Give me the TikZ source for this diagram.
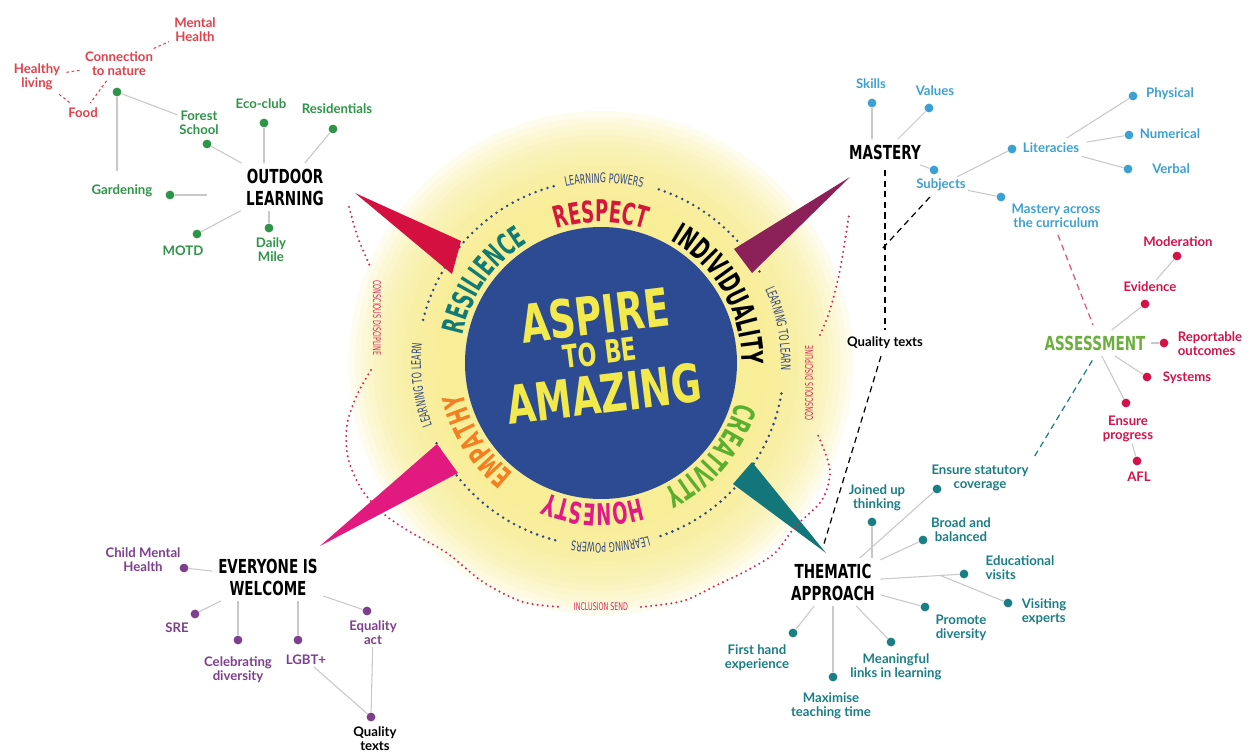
\documentclass[tikz,border=0pt]{standalone}
\usepackage{fontspec}
\setmainfont{Lato}
\newfontfamily\headfont{DejaVu Sans}[FakeStretch=0.7]
\newfontfamily\ringfont{DejaVu Sans}[FakeStretch=0.6]
\usetikzlibrary{decorations.text,calc}

\definecolor{outgreen}{HTML}{2E9548}
\definecolor{natred}{HTML}{E2404A}
\definecolor{mblue}{HTML}{3BA0D3}
\definecolor{asred}{HTML}{D3124A}
\definecolor{asgreen}{HTML}{6DAF3E}
\definecolor{thteal}{HTML}{1A7E85}
\definecolor{evpurple}{HTML}{7E3F8E}
\definecolor{twiggray}{HTML}{C8C8C8}
\definecolor{discblue}{HTML}{2C4B93}
\definecolor{titleyellow}{HTML}{F2EA4C}
\definecolor{ringnavy}{HTML}{35477E}
\definecolor{wavyred}{HTML}{D42A55}
\definecolor{wedgered}{HTML}{D3103F}
\definecolor{wedgeplum}{HTML}{8C2159}
\definecolor{wedgepink}{HTML}{E2197F}
\definecolor{wedgeteal}{HTML}{12767A}
\definecolor{respect}{HTML}{D3173D}
\definecolor{resilience}{HTML}{0F7A76}
\definecolor{empathy}{HTML}{F47E22}
\definecolor{honesty}{HTML}{E01A86}
\definecolor{creativity}{HTML}{5BAE2F}
\definecolor{glowa}{HTML}{F8EE92}

\newcommand\ringbig{\ringfont\bfseries\fontsize{17}{17}\selectfont}
\newcommand\ringsmall{\ringfont\fontsize{7.5}{7.5}\selectfont\color{ringnavy}}

\tikzset{
  hub/.style={font=\headfont\bfseries\fontsize{11}{12.5}\selectfont, align=center, inner sep=3pt},
  leaf/.style={text=#1, font=\bfseries\fontsize{7.5}{8}\selectfont, align=center, inner sep=1pt},
  pip/.style={circle, fill=#1, inner sep=0pt, minimum size=5pt},
  twig/.style={draw=twiggray, line width=0.6pt},
  ringdots/.style={draw=ringnavy, line width=1.6pt, line cap=round, dash pattern=on 0pt off 3.6pt},
  wavy/.style={draw=wavyred, line width=1.3pt, line cap=round, dash pattern=on 0pt off 2.9pt},
  wavytext/.style={text=wavyred, font=\ringfont\fontsize{6}{6}\selectfont, inner sep=0pt},
  linkdash/.style={line width=0.7pt, dash pattern=on 3.5pt off 2.5pt, shorten <=3pt, shorten >=3pt},
  natdash/.style={draw=natred, line width=0.6pt, dash pattern=on 1.5pt off 1.5pt, shorten <=2pt, shorten >=2pt},
  bigword/.style={text=titleyellow, rotate=7, inner sep=0pt},
  along/.style={decorate, decoration={text along path, text align=center, text={#1}}}
}

\begin{document}
\begin{tikzpicture}[x=0.02cm, y=0.02cm]
  \useasboundingbox (0,0) rectangle (1249,-753);
  \fill[white] (0,0) rectangle (1249,-753);

  % centre disc
  \coordinate (c) at (601,-363);
  \foreach \r in {252,246,...,156}
    \fill[glowa, opacity=0.14] (c) circle[radius=\r];
  \fill[discblue] (c) circle[radius=136];
  \node[bigword, font=\headfont\bfseries\fontsize{30}{30}\selectfont] (aspire) at (595,-315) {ASPIRE};
  \node[bigword, font=\headfont\bfseries\fontsize{18}{18}\selectfont] (tobe) at (600,-353) {TO BE};
  \node[bigword, font=\headfont\bfseries\fontsize{30}{30}\selectfont] (amazing) at (604,-394) {AMAZING};

  % values round the disc
  \path[along={|\ringbig\color{respect}|RESPECT}] ([shift={(125:141)}]c) arc[start angle=125, end angle=55, radius=141];
  \path[along={|\ringbig\color{black}|INDIVIDUALITY}] ([shift={(80:141)}]c) arc[start angle=80, end angle=-20, radius=141];
  \path[along={|\ringbig\color{creativity}|CREATIVITY}] ([shift={(5:141)}]c) arc[start angle=5, end angle=-85, radius=141];
  \path[along={|\ringbig\color{honesty}|HONESTY}] ([shift={(-48:141)}]c) arc[start angle=-48, end angle=-138, radius=141];
  \path[along={|\ringbig\color{empathy}|EMPATHY}] ([shift={(-103:141)}]c) arc[start angle=-103, end angle=-193, radius=141];
  \path[along={|\ringbig\color{resilience}|RESILIENCE}] ([shift={(190:141)}]c) arc[start angle=190, end angle=100, radius=141];

  % dotted ring
  \draw[ringdots] ([shift={(30:183)}]c) arc[start angle=30, end angle=73, radius=183];
  \draw[ringdots] ([shift={(105:183)}]c) arc[start angle=105, end angle=168, radius=183];
  \draw[ringdots] ([shift={(206:183)}]c) arc[start angle=206, end angle=257, radius=183];
  \draw[ringdots] ([shift={(289:183)}]c) arc[start angle=289, end angle=352, radius=183];
  \path[along={|\ringsmall|LEARNING POWERS}] ([shift={(119:180)}]c) arc[start angle=119, end angle=59, radius=180];
  \path[along={|\ringsmall|LEARNING TO LEARN}] ([shift={(51:180)}]c) arc[start angle=51, end angle=-29, radius=180];
  \path[along={|\ringsmall|LEARNING POWERS}] ([shift={(-57:180)}]c) arc[start angle=-57, end angle=-117, radius=180];
  \path[along={|\ringsmall|LEARNING TO LEARN}] ([shift={(227:180)}]c) arc[start angle=227, end angle=147, radius=180];

  % pointers
  \fill[wedgered] (355,-193) -- (461,-241) -- (452,-274) -- cycle;
  \fill[wedgeplum] (850,-177) -- (734,-249) -- (752,-273) -- cycle;
  \fill[wedgepink] (320,-546) -- (437,-444) -- (458,-473) -- cycle;
  \fill[wedgeteal] (826,-553) -- (733,-484) -- (752,-462) -- cycle;

  % wavy outline
  \draw[wavy] plot[smooth] coordinates {(349,-207) (358,-238) (370,-266)};
  \node[wavytext, rotate=-90] (discl) at (377,-318) {CONSCIOUS DISCIPLINE};
  \draw[wavy] plot[smooth] coordinates {(371,-370) (357,-395) (347,-425) (348,-458) (362,-490) (385,-515) (412,-533) (447,-553) (483,-582) (523,-602) (562,-607)};
  \node[wavytext] (send) at (601,-607) {INCLUSION SEND};
  \draw[wavy] plot[smooth] coordinates {(641,-607) (683,-601) (717,-585) (748,-570) (775,-553) (795,-527) (822,-500) (830,-470) (818,-435)};
  \node[wavytext, rotate=90] (discr) at (809,-383) {CONSCIOUS DISCIPLINE};
  \draw[wavy] plot[smooth] coordinates {(820,-335) (830,-310) (840,-270) (849,-215)};

  % outdoor learning
  \node[hub] (ol) at (285,-187) {OUTDOOR\\LEARNING};
  \node[leaf=outgreen] (forest) at (199,-123) {Forest\\School};
  \node[pip=outgreen] (forest-d) at (207,-144) {};
  \node[leaf=outgreen] (eco) at (261,-104) {Eco-club};
  \node[pip=outgreen] (eco-d) at (264,-123) {};
  \node[leaf=outgreen] (resi) at (337,-109) {Residentials};
  \node[pip=outgreen] (resi-d) at (333,-129) {};
  \node[leaf=outgreen] (gard) at (122,-191) {Gardening};
  \node[pip=outgreen] (gard-d) at (170,-195) {};
  \node[leaf=outgreen] (motd) at (183,-251) {MOTD};
  \node[pip=outgreen] (motd-d) at (197,-234) {};
  \node[leaf=outgreen] (mile) at (271,-250) {Daily\\Mile};
  \node[pip=outgreen] (mile-d) at (269,-228) {};
  \node[pip=outgreen] (nat-d) at (117,-92) {};
  \node[leaf=natred] (nat) at (119,-64) {Connection\\to nature};
  \node[leaf=natred] (mental) at (195,-30) {Mental\\Health};
  \node[leaf=natred] (healthy) at (37,-77) {Healthy\\living};
  \node[leaf=natred] (food) at (83,-113) {Food};

  \draw[twig] (forest-d) -- (ol);
  \draw[twig] (eco-d) -- (eco-d |- ol.north);
  \draw[twig] (resi-d) -- (ol);
  \draw[twig, shorten >=19pt] (gard-d) -- (ol.west |- gard-d);
  \draw[twig] (motd-d) -- (ol);
  \draw[twig] (mile-d) -- (mile-d |- ol.south);
  \draw[twig] (nat-d) -- (forest);
  \draw[twig, shorten >=7pt] (nat-d) -- (nat-d |- gard.north);
  \draw[natdash] (nat) -- (mental);
  \draw[natdash] (nat) -- (healthy);
  \draw[natdash] (nat) -- (food);
  \draw[natdash] (healthy) -- (food);

  % mastery
  \node[hub] (mast) at (885,-152) {MASTERY};
  \node[leaf=mblue] (skills) at (871,-84) {Skills};
  \node[pip=mblue] (skills-d) at (872,-103) {};
  \node[leaf=mblue] (values) at (935,-91) {Values};
  \node[pip=mblue] (values-d) at (929,-108) {};
  \node[pip=mblue] (subj-d) at (934,-170) {};
  \node[leaf=mblue] (subj) at (941,-185) {Subjects};
  \node[pip=mblue] (lit-d) at (1012,-149) {};
  \node[leaf=mblue] (lit) at (1051,-148) {Literacies};
  \node[pip=mblue] (phys-d) at (1133,-96) {};
  \node[leaf=mblue] (phys) at (1170,-94) {Physical};
  \node[pip=mblue] (num-d) at (1129,-135) {};
  \node[leaf=mblue] (num) at (1170,-134) {Numerical};
  \node[pip=mblue] (verb-d) at (1128,-169) {};
  \node[leaf=mblue] (verb) at (1171,-169) {Verbal};
  \node[pip=mblue] (across-d) at (1001,-197) {};
  \node[leaf=mblue] (across) at (1056,-216) {Mastery across\\the curriculum};

  \draw[twig] (skills-d) -- (skills-d |- mast.north);
  \draw[twig] (values-d) -- (mast);
  \draw[twig] (mast) -- (subj-d);
  \draw[twig] (subj) -- (lit-d);
  \draw[twig] (subj) -- (across-d);
  \draw[twig, shorten <=3pt] (lit) -- (phys-d);
  \draw[twig, shorten <=3pt] (lit) -- (num-d);
  \draw[twig, shorten <=3pt] (lit) -- (verb-d);

  % assessment
  \node[hub, text=asgreen] (assess) at (1095,-343) {ASSESSMENT};
  \node[leaf=asred] (mod) at (1178,-242) {Moderation};
  \node[pip=asred] (mod-d) at (1177,-256) {};
  \node[leaf=asred] (evid) at (1150,-287) {Evidence};
  \node[pip=asred] (evid-d) at (1145,-304) {};
  \node[pip=asred] (rep-d) at (1164,-343) {};
  \node[leaf=asred, align=left] (rep) at (1210,-344) {Reportable\\outcomes};
  \node[pip=asred] (sys-d) at (1147,-377) {};
  \node[leaf=asred] (sys) at (1187,-378) {Systems};
  \node[pip=asred] (ens-d) at (1126,-403) {};
  \node[leaf=asred] (ens) at (1128,-429) {Ensure\\progress};
  \node[pip=asred] (afl-d) at (1137,-461) {};
  \node[leaf=asred] (afl) at (1139,-477) {AFL};

  \draw[twig] (evid) -- (mod-d);
  \draw[twig] (assess) -- (evid-d);
  \draw[twig] (assess) -- (rep-d);
  \draw[twig] (assess) -- (sys-d);
  \draw[twig] (assess) -- (ens-d);
  \draw[twig] (ens) -- (afl-d);

  % thematic approach
  \node[hub] (them) at (833,-582) {THEMATIC\\APPROACH};
  \node[leaf=thteal] (joined) at (877,-498) {Joined up\\thinking};
  \node[pip=thteal] (joined-d) at (872,-522) {};
  \node[leaf=thteal] (stat) at (980,-478) {Ensure statutory\\coverage};
  \node[pip=thteal] (stat-d) at (937,-489) {};
  \node[leaf=thteal] (broad) at (961,-530) {Broad and\\balanced};
  \node[pip=thteal] (broad-d) at (923,-540) {};
  \node[leaf=thteal, align=left] (edu) at (1020,-568) {Educational\\visits};
  \node[pip=thteal] (edu-d) at (964,-574) {};
  \node[leaf=thteal, align=left] (visit) at (1044,-612) {Visiting\\experts};
  \node[pip=thteal] (visit-d) at (1008,-603) {};
  \node[leaf=thteal] (prom) at (961,-628) {Promote\\diversity};
  \node[pip=thteal] (prom-d) at (925,-607) {};
  \node[leaf=thteal] (mean) at (896,-667) {Meaningful\\links in learning};
  \node[pip=thteal] (mean-d) at (891,-642) {};
  \node[leaf=thteal] (maxi) at (831,-706) {Maximise\\teaching time};
  \node[pip=thteal] (maxi-d) at (833,-677) {};
  \node[leaf=thteal] (first) at (757,-658) {First hand\\experience};
  \node[pip=thteal] (first-d) at (793,-633) {};

  \draw[twig] (joined-d) -- (joined-d |- them.north);
  \draw[twig] (stat-d) -- (them);
  \draw[twig] (broad-d) -- (them);
  \draw[twig] (edu-d) -- (them);
  \draw[twig] (visit-d) -- ($(edu-d)!.18!(them)$);
  \draw[twig] (prom-d) -- (them);
  \draw[twig] (mean-d) -- (them);
  \draw[twig] (maxi-d) -- (maxi-d |- them.south);
  \draw[twig] (first-d) -- (them);

  % everyone is welcome
  \node[hub] (wel) at (268,-577) {EVERYONE IS\\WELCOME};
  \node[leaf=evpurple] (child) at (143,-560) {Child Mental\\Health};
  \node[pip=evpurple] (child-d) at (184,-568) {};
  \node[leaf=evpurple] (sre) at (177,-628) {SRE};
  \node[pip=evpurple] (sre-d) at (195,-614) {};
  \node[leaf=evpurple] (cele) at (238,-670) {Celebrating\\diversity};
  \node[pip=evpurple] (cele-d) at (238,-640) {};
  \node[leaf=evpurple] (lgbt) at (306,-660) {LGBT+};
  \node[pip=evpurple] (lgbt-d) at (298,-640) {};
  \node[leaf=evpurple] (equal) at (373,-633) {Equality\\act};
  \node[pip=evpurple] (equal-d) at (367,-611) {};
  \node[pip=evpurple] (qtw-d) at (371,-717) {};
  \node[leaf=black] (qtw) at (375,-739) {Quality\\texts};

  \draw[twig] (child-d) -- (wel);
  \draw[twig] (sre-d) -- (wel);
  \draw[twig] (cele-d) -- (cele-d |- wel.south);
  \draw[twig] (lgbt-d) -- (lgbt-d |- wel.south);
  \draw[twig] (equal-d) -- (wel);
  \draw[twig] (lgbt) -- (qtw-d);
  \draw[twig] (equal) -- (qtw-d);

  % links between the branches
  \node[leaf=black] (qtm) at (885,-343) {Quality texts};
  \coordinate (mjoin) at (882,-249);
  \coordinate (tjoin) at (823,-547);
  \draw[linkdash] (mast) -- (qtm);
  \draw[linkdash, shorten >=0pt] (subj) -- (mjoin);
  \draw[linkdash, shorten >=0pt] (qtm) -- (tjoin);
  \draw[linkdash, draw=wavyred!80] (across.south) -- (assess.north);
  \draw[linkdash, draw=thteal] (assess.south) -- (stat.north east);
\end{tikzpicture}
\end{document}
